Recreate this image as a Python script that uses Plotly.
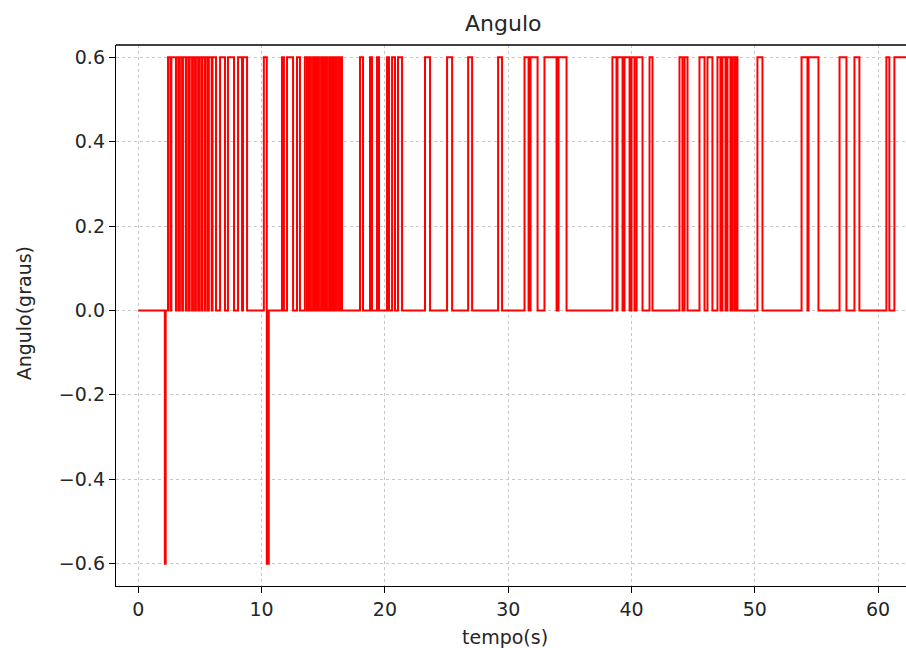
import plotly.graph_objects as go

# --- data ---
# intervals where the angle is +0.6 (start, end) in seconds
high_start = [2.41, 2.68, 3.12, 3.37, 3.62, 3.92, 4.17, 4.43, 4.67, 4.92, 5.20, 5.47, 5.72, 6.02,
              6.63, 7.27, 8.09, 8.49,
              10.18, 11.65, 12.06, 12.87, 13.51, 13.84, 14.17, 14.49, 14.82, 15.14, 15.47, 15.79, 16.11, 16.36,
              17.98, 18.79, 19.36, 20.17, 20.58, 21.06, 23.25, 25.04, 26.75, 29.18,
              31.32, 31.81, 32.94, 34.08, 38.45, 38.86, 39.43, 40.00, 40.41, 41.46, 43.89, 44.30,
              45.51, 46.16, 46.97, 47.37, 47.78, 48.18, 48.43, 50.21, 53.79, 54.35, 56.87, 58.08,
              60.67, 61.32]
high_end = [2.60, 3.05, 3.30, 3.55, 3.85, 4.10, 4.36, 4.60, 4.85, 5.10, 5.40, 5.65, 5.95, 6.30,
            7.03, 7.76, 8.41, 8.82,
            10.42, 11.81, 12.55, 13.11, 13.68, 14.00, 14.33, 14.65, 14.98, 15.30, 15.63, 15.95, 16.28, 16.52,
            18.22, 18.95, 19.52, 20.33, 20.82, 21.39, 23.66, 25.45, 27.07, 29.50,
            31.65, 32.38, 33.92, 34.73, 38.78, 39.27, 39.84, 40.24, 40.89, 41.70, 44.13, 44.54,
            45.92, 46.56, 47.21, 47.62, 48.02, 48.35, 48.59, 50.62, 54.27, 55.16, 57.43, 58.48,
            60.91, 63.50]
# intervals where the angle is -0.6
neg_start = [2.15, 10.42]
neg_end = [2.22, 10.58]
t_final = 63.5

# --- build step series from the intervals ---
events = []
for s, e in zip(high_start, high_end):
    events.append((s, 1, 0.6))
    events.append((e, 0, 0.0))
for s, e in zip(neg_start, neg_end):
    events.append((s, 1, -0.6))
    events.append((e, 0, 0.0))
events.sort(key=lambda ev: (ev[0], ev[1]))
tx, ty = [0.0], [0.0]
for t, _, v in events:
    tx.append(t)
    ty.append(v)
tx.append(t_final)
ty.append(ty[-1])

fig = go.Figure()
fig.add_trace(go.Scatter(x=tx, y=ty, mode="lines", line=dict(color="red", width=2, shape="hv"),
                         showlegend=False, hoverinfo="skip"))

x_ticks = [0, 10, 20, 30, 40, 50, 60]
y_ticks = [-0.6, -0.4, -0.2, 0.0, 0.2, 0.4, 0.6]
y_ticktext = ["\u22120.6", "\u22120.4", "\u22120.2", "0.0", "0.2", "0.4", "0.6"]

font_family = "DejaVu Sans"
fig.update_layout(
    width=906, height=648,
    margin=dict(l=116, r=0, t=45, b=62, pad=0),
    paper_bgcolor="white", plot_bgcolor="white",
    font=dict(family=font_family, size=19, color="#262626"),
    xaxis=dict(range=[-1.81, 62.26], tickvals=x_ticks, showline=True, linecolor="black", linewidth=1.4,
               mirror=False, ticks="outside", ticklen=6, tickwidth=1.4, tickcolor="black",
               showgrid=True, gridcolor="#c8c8c8", gridwidth=1.2, griddash="dot", zeroline=False,
               tickfont=dict(size=19, color="#262626")),
    yaxis=dict(range=[-0.653, 0.629], tickvals=y_ticks, ticktext=y_ticktext, showline=True, linecolor="black",
               linewidth=1.4, mirror=False, ticks="outside", ticklen=6, tickwidth=1.4, tickcolor="black",
               showgrid=True, gridcolor="#c8c8c8", gridwidth=1.2, griddash="dot", zeroline=False,
               tickfont=dict(size=19, color="#262626")),
    shapes=[dict(type="line", xref="paper", yref="paper", x0=0, x1=1, y0=1, y1=1,
                 line=dict(color="black", width=1.4))],
    annotations=[
        dict(text="Angulo", xref="paper", yref="paper", x=0.49, y=1, yshift=22, showarrow=False,
             font=dict(size=22, color="#262626"), xanchor="center", yanchor="middle"),
        dict(text="tempo(s)", xref="paper", yref="paper", x=0.492, y=0, yshift=-51, showarrow=False,
             font=dict(size=19, color="#262626"), xanchor="center", yanchor="middle"),
        dict(text="Angulo(graus)", xref="paper", yref="paper", x=0, xshift=-92, y=0.504, showarrow=False,
             textangle=-90, font=dict(size=19, color="#262626"), xanchor="center", yanchor="middle"),
    ],
)

fig.write_html("out.html")
